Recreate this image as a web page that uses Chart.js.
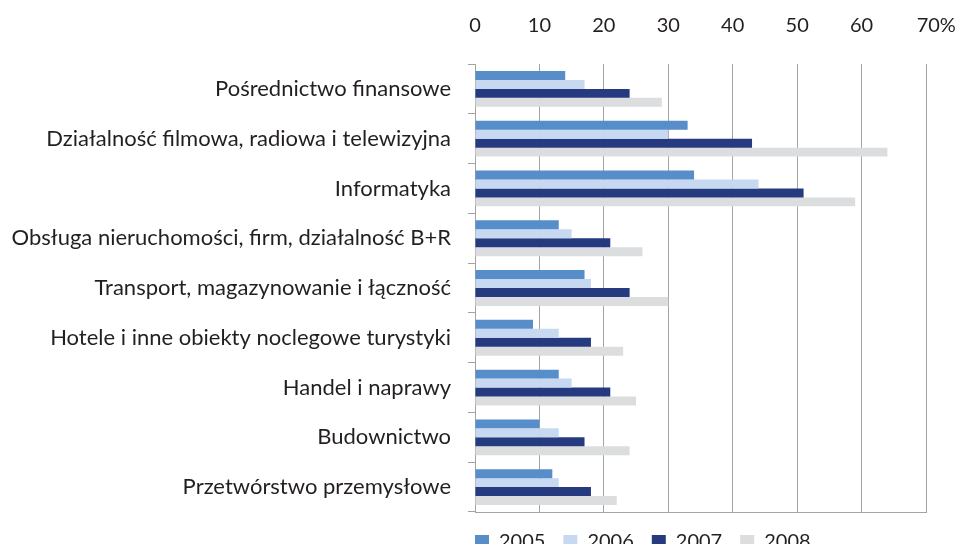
<!DOCTYPE html>
<html>
<head>
<meta charset="utf-8">
<script src="https://cdn.jsdelivr.net/npm/chart.js@4"></script>
<style>
  html, body { margin: 0; padding: 0; background: #fff; }
  #wrap { width: 960px; height: 550px; position: relative; }
</style>
</head>
<body>
<div id="wrap"><canvas id="chart"></canvas></div>
<script>
'use strict';

// ── Data ──────────────────────────────────────────────────────────────────────

const categories = [
  'Pośrednictwo finansowe',
  'Działalność filmowa, radiowa i telewizyjna',
  'Informatyka',
  'Obsługa nieruchomości, firm, działalność B+R',
  'Transport, magazynowanie i łączność',
  'Hotele i inne obiekty noclegowe turystyki',
  'Handel i naprawy',
  'Budownictwo',
  'Przetwórstwo przemysłowe',
];

const years = ['2005', '2006', '2007', '2008'];

const values2005 = [14, 33, 34, 13, 17, 9, 13, 10, 12];
const values2006 = [17, 30, 44, 15, 18, 13, 15, 13, 13];
const values2007 = [24, 43, 51, 21, 24, 18, 21, 17, 18];
const values2008 = [29, 64, 59, 26, 30, 23, 25, 24, 22];

const xTicks = [0, 10, 20, 30, 40, 50, 60, 70];

// ── Chart ─────────────────────────────────────────────────────────────────────

const FONT = "Lato, 'Open Sans', sans-serif";
const TEXT = '#231f20';
const GRID = '#a3a3a3';
const colors = ['#578dc9', '#c6d9f0', '#263a7f', '#dcdddf'];
const series = [values2005, values2006, values2007, values2008];

Chart.defaults.font.family = FONT;
Chart.defaults.color = TEXT;

// legend starts flush with the plot's left edge, a bit closer to the plot
const legendShift = {
  id: 'legendShift',
  afterLayout(chart) {
    const lg = chart.legend;
    lg.left -= 18;
    lg.right -= 18;
    lg.top -= 6;
    lg.bottom -= 6;
  },
};

const noEdgePad = s => {
  s.paddingLeft = 0; s.paddingRight = 0;
  s.paddingTop = 0; s.paddingBottom = 0;
};

const ctx = document.getElementById('chart').getContext('2d');
new Chart(ctx, {
  type: 'bar',
  data: {
    labels: categories,
    datasets: years.map((y, i) => ({
      label: y,
      data: series[i],
      backgroundColor: colors[i],
      borderWidth: 0,
      barPercentage: 1,
      categoryPercentage: 0.72,
    })),
  },
  options: {
    indexAxis: 'y',
    responsive: true, maintainAspectRatio: false,
    animation: false,
    layout: { padding: { left: 12, right: 34, top: -12, bottom: 0 } },
    plugins: {
      tooltip: { enabled: false },
      legend: {
        position: 'bottom',
        align: 'start',
        fullSize: false,
        maxHeight: 30,
        labels: {
          boxWidth: 14, boxHeight: 14,
          padding: 18,
          font: { size: 20 },
          color: TEXT,
        },
      },
    },
    scales: {
      x: {
        position: 'top',
        min: 0, max: 70,
        afterBuildTicks: s => { s.ticks = xTicks.map(v => ({ value: v })); },
        afterFit: noEdgePad,
        ticks: {
          font: { size: 20 },
          padding: 26,
          minRotation: 0, maxRotation: 0, autoSkip: false,
          // keep "70" over its gridline, with the % sign trailing
          callback: v => v === 70 ? '    70%' : v,
        },
        grid: { color: GRID, drawTicks: false, lineWidth: 1 },
        border: { display: false },
      },
      x2: {
        position: 'bottom',
        min: 0, max: 70,
        afterFit: noEdgePad,
        ticks: { display: false },
        grid: { display: false },
        border: { display: true, color: GRID },
      },
      y: {
        afterFit: s => { noEdgePad(s); s.width = 463; },
        ticks: { font: { size: 22 }, padding: 17, color: TEXT },
        grid: { drawOnChartArea: false, tickLength: 7, color: GRID },
        border: { display: true, color: GRID },
      },
    },
  },
  plugins: [legendShift],
});
</script>
</body>
</html>
